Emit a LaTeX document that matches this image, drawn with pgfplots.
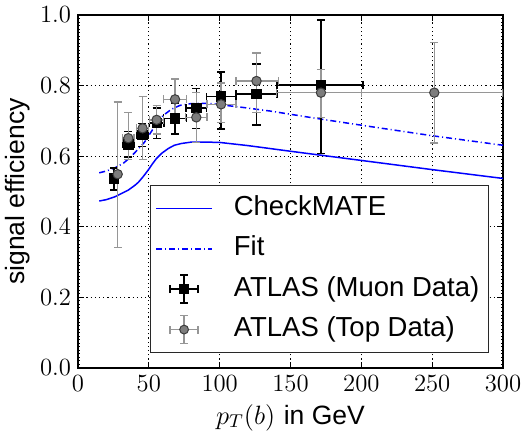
\RequirePackage{fix-cm}
\documentclass[border=0pt]{standalone}
\usepackage{fontspec}
\newfontfamily\helv{Liberation Sans}
\usepackage{pgfplots}
\usepackage{pgfplotstable}
\pgfplotsset{compat=1.18}
\definecolor{errgrey}{RGB}{150,150,150}
\definecolor{markgrey}{RGB}{125,125,125}
\definecolor{edgegrey}{RGB}{60,60,60}
\definecolor{legframe}{RGB}{40,40,40}

\pgfplotstableread{
x y exm exp eym eyp
25.5 0.537 3.2 3.2 0.033 0.030
35.5 0.634 4.2 4.2 0.036 0.036
45.5 0.660 4.2 4.2 0.033 0.033
55.5 0.694 5.2 5.2 0.044 0.042
68.5 0.707 8.0 8.0 0.044 0.044
83.5 0.737 7.3 7.3 0.058 0.055
101 0.769 10.2 10.5 0.092 0.070
126 0.776 14.5 14.5 0.088 0.085
171.5 0.802 31 29.5 0.194 0.184
}\muondata

\pgfplotstableread{
x y exm exp eym eyp
28 0.549 2 2 0.208 0.205
35.5 0.651 4 4 0.060 0.073
45.6 0.679 4.2 4.2 0.088 0.090
55.5 0.703 5 5 0.040 0.040
68.5 0.761 8 8 0.060 0.057
83.5 0.710 7.5 7.5 0.071 0.070
101 0.747 10 10.5 0.052 0.060
126 0.813 14.5 15.5 0.089 0.080
171.5 0.780 31.5 28.5 0.070 0.066
251.5 0.780 51.5 48.5 0.142 0.142
}\topdata

\pgfplotstableread{
x y
15 0.473
20 0.477
26 0.485
30 0.493
35.5 0.504
40 0.517
42.6 0.526
46 0.542
49.6 0.561
52.5 0.578
55.5 0.594
59 0.608
63.8 0.622
68 0.631
73 0.636
80 0.640
90 0.640
100 0.639
120 0.630
150 0.614
200 0.588
250 0.562
300 0.537
}\checkmate

\pgfplotstableread{
x y
15 0.553
20 0.558
26 0.567
32 0.580
37 0.597
42 0.618
47 0.640
51 0.665
55 0.690
60 0.715
66 0.733
72 0.744
80 0.749
92 0.750
100 0.746
116.7 0.738
135.5 0.728
170 0.706
208 0.683
250 0.658
300 0.631
}\fitdata

\pgfplotsset{
  lineleg/.style={legend image code/.code={\draw[blue, line width=0.75bp] (0bp,0bp) -- (28bp,0bp);}},
  dashleg/.style={legend image code/.code={\draw[blue, line width=0.75bp, dash pattern=on 3bp off 1.5bp on 0.5bp off 1.5bp] (0bp,0bp) -- (28bp,0bp);}},
  muonleg/.style={legend image code/.code={
    \draw[black, line width=0.75bp] (7bp,0bp) -- (21bp,0bp) (14bp,-7bp) -- (14bp,7bp)
       (7bp,-2bp) -- (7bp,2bp) (21bp,-2bp) -- (21bp,2bp)
       (12bp,-7bp) -- (16bp,-7bp) (12bp,7bp) -- (16bp,7bp);
    \fill[black] (11.9bp,-2.1bp) rectangle (16.1bp,2.1bp);}},
  topleg/.style={legend image code/.code={
    \draw[errgrey, line width=0.75bp] (7bp,0bp) -- (21bp,0bp) (14bp,-7bp) -- (14bp,7bp)
       (7bp,-2bp) -- (7bp,2bp) (21bp,-2bp) -- (21bp,2bp)
       (12bp,-7bp) -- (16bp,-7bp) (12bp,7bp) -- (16bp,7bp);
    \filldraw[fill=markgrey, draw=edgegrey, line width=0.5bp] (14bp,0bp) circle (2.2bp);}},
}

\begin{document}
\begin{tikzpicture}
\begin{axis}[
  scale only axis, width=212.5bp, height=176.5bp,
  xmin=0, xmax=300, ymin=0, ymax=1,
  xtick={0,50,100,150,200,250,300},
  ytick={0,0.2,0.4,0.6,0.8,1.0},
  minor y tick num=19,
  xtick pos=both, ytick pos=both,
  tick align=inside,
  major tick length=3bp, minor tick length=1.2bp,
  every tick/.style={black, line width=0.5bp},
  axis line style={line width=0.9bp},
  grid=major,
  major grid style={black, line width=0.6bp, dash pattern=on 0.6bp off 1.5bp},
  tick label style={font=\fontsize{12.4}{14}\selectfont},
  yticklabel style={/pgf/number format/.cd, fixed, fixed zerofill, precision=1},
  xticklabel style={yshift=-0.5bp},
  label style={font=\fontsize{13.3}{16}\selectfont},
  xlabel={$p_T(b)$ {\helv in GeV}},
  ylabel={\helv signal efficiency},
  xlabel style={at={(axis description cs:0.5,0)}, anchor=base, yshift=-28bp},
  ylabel style={at={(axis description cs:-0.1412,0.5)}, anchor=center},
  legend style={at={(0.967,0.042)}, anchor=south east, draw=legframe, line width=0.6bp,
    fill=white, font=\helv\fontsize{13.8}{16}\selectfont,
    inner xsep=2.5bp, inner ysep=3bp, row sep=3.2bp, column sep=8.5bp,
    nodes={inner sep=2bp, text height=10bp, text depth=3bp}},
  legend cell align=left,
]
\addplot[blue, line width=0.75bp, lineleg] table[x=x,y=y] {\checkmate};
\addlegendentry{CheckMATE}
\addplot[blue, line width=0.75bp, dash pattern=on 3bp off 1.5bp on 0.5bp off 1.5bp, dashleg] table[x=x,y=y] {\fitdata};
\addlegendentry{Fit}
\addplot[only marks, mark=square*, mark size=2.35bp, muonleg,
  mark options={fill=black, draw=black, solid},
  error bars/.cd, x dir=both, y dir=both, x explicit, y explicit,
  error mark=-,
  error bar style={black, line width=0.75bp},
  error mark options={rotate=90, black, line width=0.75bp, mark size=2bp},
  ]
  table[x=x, y=y, x error minus=exm, x error plus=exp, y error minus=eym, y error plus=eyp] {\muondata};
\addlegendentry{ATLAS (Muon Data)}
\addplot[only marks, mark=*, mark size=2.35bp, topleg,
  mark options={fill=markgrey, draw=edgegrey, line width=0.5bp, solid},
  error bars/.cd, x dir=both, y dir=both, x explicit, y explicit,
  error mark=-,
  error bar style={errgrey, line width=0.75bp},
  error mark options={rotate=90, errgrey, line width=0.75bp, mark size=2bp},
  ]
  table[x=x, y=y, x error minus=exm, x error plus=exp, y error minus=eym, y error plus=eyp] {\topdata};
\addlegendentry{ATLAS (Top Data)}
\end{axis}
\pgfresetboundingbox
\path[use as bounding box] (-39bp,-34bp) rectangle (224bp,184bp);
\end{tikzpicture}
\end{document}
